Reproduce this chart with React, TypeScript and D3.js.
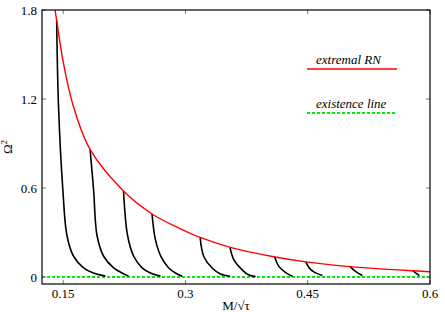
import React from 'react';
import {scaleLinear, line, curveCatmullRom} from 'd3';

const width = 445;
const height = 312;
const margin = {top: 10, right: 15, bottom: 28, left: 42};
const innerWidth = width - margin.left - margin.right;
const innerHeight = height - margin.top - margin.bottom;

const xTicks = [0.15, 0.3, 0.45, 0.6];
const yTicks = [0, 0.6, 1.2, 1.8];

// extremal RN curve, [M/sqrt(tau), Omega^2]
const extremalRN: [number, number][] = [
  [0.140, 1.80], [0.142, 1.73], [0.150, 1.45], [0.162, 1.16], [0.183, 0.86],
  [0.224, 0.58], [0.259, 0.425], [0.294, 0.325], [0.318, 0.267],
  [0.355, 0.20], [0.410, 0.135], [0.448, 0.102], [0.502, 0.07],
  [0.579, 0.042], [0.600, 0.036],
];

const branch1: [number, number][] = [
  [0.142, 1.73], [0.1442, 1.16], [0.1496, 0.587], [0.1546, 0.28], [0.1627, 0.14],
  [0.175, 0.062], [0.187, 0.027], [0.2017, 0.006],
];
const branch2: [number, number][] = [
  [0.183, 0.86], [0.1873, 0.587], [0.1915, 0.28], [0.1996, 0.14], [0.2119, 0.062],
  [0.2222, 0.027], [0.2303, 0.006],
];
const branch3: [number, number][] = [
  [0.224, 0.58], [0.229, 0.28], [0.2365, 0.14], [0.2468, 0.062], [0.257, 0.027],
  [0.2693, 0.006],
];
const branch4: [number, number][] = [
  [0.259, 0.425], [0.2632, 0.25], [0.270, 0.137], [0.2795, 0.061], [0.2878, 0.027],
  [0.296, 0.006],
];
const branch5: [number, number][] = [
  [0.318, 0.267], [0.3226, 0.137], [0.333, 0.059], [0.343, 0.02], [0.355, 0.005],
];
const branch6: [number, number][] = [
  [0.3546, 0.20], [0.3595, 0.115], [0.3698, 0.047], [0.378, 0.013], [0.386, 0.003],
];
const branch7: [number, number][] = [
  [0.4095, 0.135], [0.4148, 0.07], [0.423, 0.03], [0.4313, 0.005],
];
const branch8: [number, number][] = [
  [0.4477, 0.102], [0.452, 0.06], [0.458, 0.033], [0.468, 0.01],
];
const branch9: [number, number][] = [
  [0.502, 0.07], [0.509, 0.036], [0.517, 0.01],
];
const branch10: [number, number][] = [
  [0.579, 0.042], [0.587, 0.01],
];
const branches = [branch1, branch2, branch3, branch4, branch5, branch6, branch7, branch8, branch9, branch10];

const existenceLine: [number, number][] = [[0.124, 0], [0.6, 0]];

const font = 'Liberation Serif, DejaVu Serif, Times New Roman, serif';

export default function App() {
  const xScale = scaleLinear().domain([0.124, 0.6]).range([0, innerWidth]);
  const yScale = scaleLinear().domain([-0.047, 1.8]).range([innerHeight, 0]);

  const path = line<[number, number]>()
    .x((d) => xScale(d[0]))
    .y((d) => yScale(d[1]))
    .curve(curveCatmullRom.alpha(0.5));

  return (
    <svg width={width} height={height} style={{position: 'absolute', left: 0, top: 0, background: 'white'}}>
      <g transform={`translate(${margin.left}, ${margin.top})`} fontFamily={font}>
        <path d={path(existenceLine) ?? ''} fill="none" stroke="#00ee00" strokeWidth={2} strokeDasharray="3,2" />
        {branches.map((b, i) => (
          <path key={i} d={path(b) ?? ''} fill="none" stroke="black" strokeWidth={1.6} />
        ))}
        <path d={path(extremalRN) ?? ''} fill="none" stroke="#ff0000" strokeWidth={1.4} />

        {xTicks.map((t) => (
          <g key={t} transform={`translate(${xScale(t)}, 0)`}>
            <line y1={innerHeight} y2={innerHeight - 4} stroke="#777" />
            <line y1={0} y2={4} stroke="#777" />
            <text y={innerHeight + 14} textAnchor="middle" fontSize={13}>{t}</text>
          </g>
        ))}
        {yTicks.map((t) => (
          <g key={t} transform={`translate(0, ${yScale(t)})`}>
            <line x1={0} x2={4} stroke="#777" />
            <line x1={innerWidth} x2={innerWidth - 4} stroke="#777" />
            <text x={-5} dy="0.35em" textAnchor="end" fontSize={13}>{t}</text>
          </g>
        ))}
        <rect x={0} y={0} width={innerWidth} height={innerHeight} fill="none" stroke="black" strokeWidth={1.2} />

        <text x={innerWidth / 2} y={innerHeight + 26} textAnchor="middle" fontSize={13}>M/√τ</text>
        <text transform={`translate(-30, ${innerHeight / 2}) rotate(-90)`} textAnchor="middle" fontSize={13}>
          Ω<tspan fontSize={9} dy={-5}>2</tspan>
        </text>

        <g transform={`translate(${307 - margin.left}, ${69 - margin.top})`}>
          <text x={9} y={-5} fontSize={13} fontStyle="italic">extremal RN</text>
          <line x1={0} x2={90} stroke="#ff0000" strokeWidth={1.4} />
        </g>
        <g transform={`translate(${307 - margin.left}, ${113 - margin.top})`}>
          <text x={9} y={-5} fontSize={13} fontStyle="italic">existence line</text>
          <line x1={0} x2={90} stroke="#00ee00" strokeWidth={2} strokeDasharray="3,2" />
        </g>
      </g>
    </svg>
  );
}
